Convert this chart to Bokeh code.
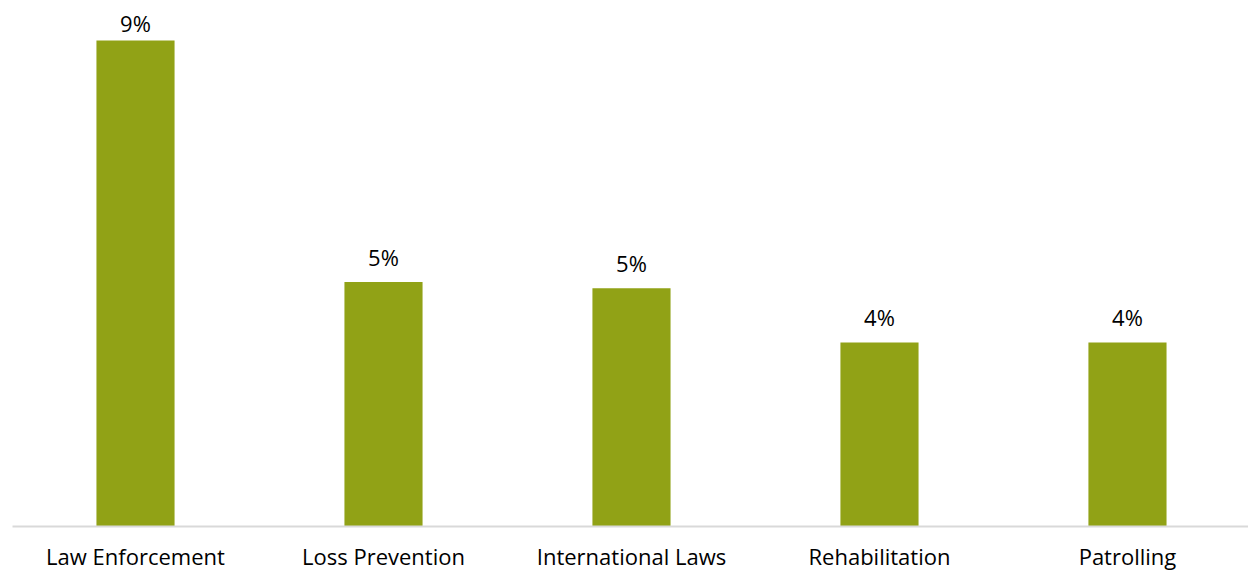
from bokeh.plotting import figure
from bokeh.models import ColumnDataSource, Range1d, FixedTicker, LabelSet
from bokeh.core.properties import value
from bokeh.embed import file_html
from bokeh.resources import INLINE

categories = ["Law Enforcement", "Loss Prevention", "International Laws", "Rehabilitation", "Patrolling"]
values = [9.24, 4.65, 4.53, 3.50, 3.50]
value_labels = ["9%", "5%", "5%", "4%", "4%"]

FONT = "Open Sans"
BAR = "#91A216"

positions = list(range(len(categories)))

src = ColumnDataSource(dict(x=positions, val=values, lab=value_labels))
# the tallest bar's label is squeezed by the top of the plot area
src_top = ColumnDataSource(dict(x=positions[:1], val=values[:1], lab=value_labels[:1]))
src_rest = ColumnDataSource(dict(x=positions[1:], val=values[1:], lab=value_labels[1:]))

p = figure(x_range=Range1d(-0.496, 4.488), y_range=Range1d(0, 10.0),
           width=1248, height=573, output_backend="svg", toolbar_location=None,
           min_border_left=12, min_border_right=0, min_border_top=0, min_border_bottom=47)
p.vbar(x="x", top="val", width=0.315, source=src, color=BAR, line_color=None)

for s, gap in ((src_top, 8), (src_rest, 16)):
    p.add_layout(LabelSet(x="x", y="val", text="lab", source=s, y_offset=gap,
                          text_align="center", text_baseline="alphabetic",
                          text_font_size="22px", text_font=value(FONT),
                          text_color="#000000"))

p.yaxis.visible = False
p.xgrid.visible = False
p.ygrid.visible = False
p.outline_line_color = None
p.xaxis.ticker = FixedTicker(ticks=positions)
p.xaxis.major_label_overrides = {i: c for i, c in zip(positions, categories)}
p.xaxis.axis_line_color = "#d9d9d9"
p.xaxis.axis_line_width = 2
p.xaxis.major_tick_line_color = None
p.xaxis.minor_tick_line_color = None
p.xaxis.major_tick_out = 0
p.xaxis.major_tick_in = 0
p.xaxis.minor_tick_out = 0
p.xaxis.major_label_text_font = FONT
p.xaxis.major_label_text_font_size = "22px"
p.xaxis.major_label_text_color = "#000000"
p.xaxis.major_label_standoff = 14

open("out.html", "w").write(file_html(p, INLINE))
